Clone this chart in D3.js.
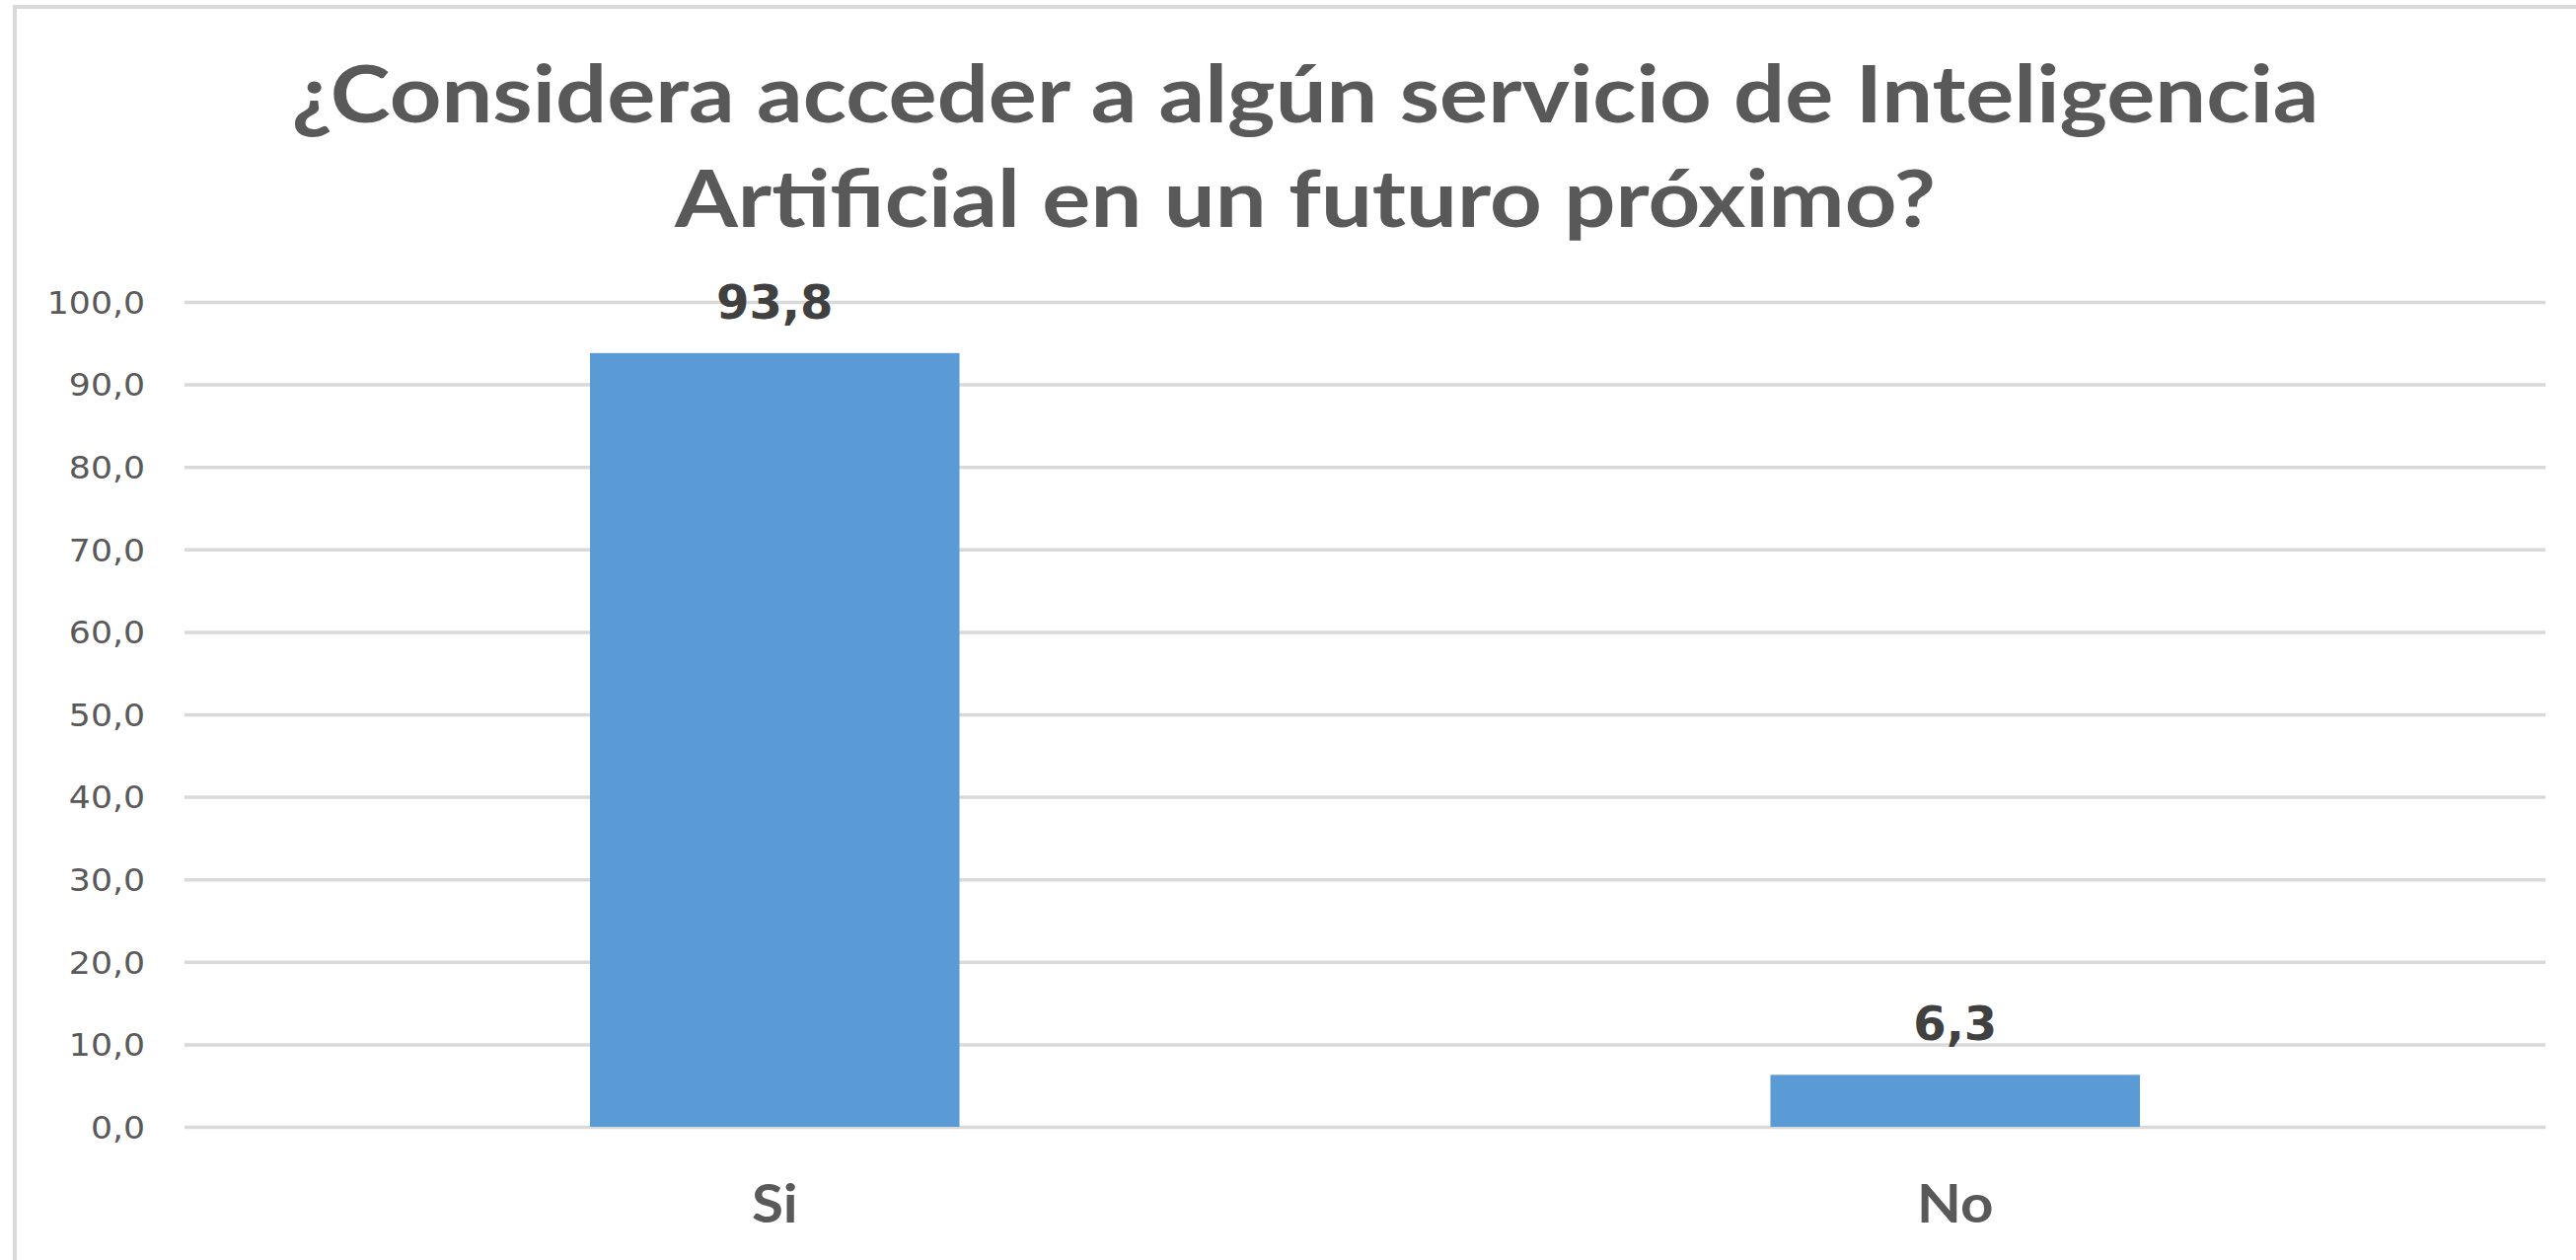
<!DOCTYPE html>
<html>
<head>
<meta charset="utf-8">
<script src="https://cdn.jsdelivr.net/npm/d3@7"></script>
<style>
  body { margin: 0; background: #ffffff; }
  svg { display: block; }
</style>
</head>
<body>
<svg id="chart" width="2611" height="1277"></svg>
<script>
// chart data
const categories = ["Si", "No"];
const values = [93.8, 6.3];
const yTicks = [0, 10, 20, 30, 40, 50, 60, 70, 80, 90, 100];
const titleLines = ["¿Considera acceder a algún servicio de Inteligencia",
                    "Artificial en un futuro próximo?"];

// layout
const width = 2611;
const height = 1277;
const plotLeft = 187;
const plotRight = 2580;
const plotTop = 306;
const plotBottom = 1142;

const gridColor = "#d9d9d9";
const barColor = "#5b9bd5";
const textColor = "#595959";
const labelColor = "#404040";

const fmt = d3.formatLocale({decimal: ",", thousands: ".", grouping: [3], currency: ["", ""]}).format(".1f");

// stretch text horizontally (source font is narrower/wider than what we have)
function stretch(sel, f) {
    sel.each(function() {
        const w = this.getComputedTextLength();
        d3.select(this).attr("textLength", w * f).attr("lengthAdjust", "spacingAndGlyphs");
    });
}

const svg = d3.select("#chart");

// chart area border (only left and top edges show in the crop)
svg.append("line")
    .attr("x1", 15).attr("x2", 15).attr("y1", 5).attr("y2", height)
    .attr("stroke", gridColor).attr("stroke-width", 4);
svg.append("line")
    .attr("x1", 13).attr("x2", width).attr("y1", 7).attr("y2", 7)
    .attr("stroke", gridColor).attr("stroke-width", 4);

const xScale = d3.scaleBand()
                .domain(categories)
                .range([plotLeft, plotRight])
                .paddingInner(0.687)
                .paddingOuter(0.3435);

const yScale = d3.scaleLinear()
                .domain([0, 100])
                .range([plotBottom, plotTop]);

// gridlines + tick labels via axisLeft
const leftAxis = d3.axisLeft(yScale)
                .tickValues(yTicks)
                .tickSize(-(plotRight - plotLeft))
                .tickPadding(40)
                .tickFormat(fmt);

const gy = svg.append("g")
    .attr("class", "axis")
    .attr("transform", "translate(" + plotLeft + ",0)")
    .call(leftAxis);

gy.select(".domain").remove();
gy.selectAll(".tick line")
    .attr("stroke", gridColor)
    .attr("stroke-width", 3.5);
gy.selectAll(".tick text")
    .attr("fill", textColor)
    .attr("font-family", "'DejaVu Sans'")
    .attr("font-size", 31.5)
    .attr("x", -40)
    .attr("dy", "0.36em")
    .call(stretch, 1.1);

// bars
svg.selectAll("rect.bar")
    .data(values)
    .enter()
    .append("rect")
    .attr("class", "bar")
    .attr("x", (d, i) => xScale(categories[i]))
    .attr("y", d => yScale(d))
    .attr("width", xScale.bandwidth())
    .attr("height", d => yScale(0) - yScale(d))
    .attr("fill", barColor);

// value labels
svg.selectAll("text.value")
    .data(values)
    .enter()
    .append("text")
    .attr("class", "value")
    .attr("x", (d, i) => xScale(categories[i]) + xScale.bandwidth() / 2)
    .attr("y", d => yScale(d) - 35)
    .attr("text-anchor", "middle")
    .attr("font-family", "'DejaVu Sans'")
    .attr("font-weight", "bold")
    .attr("font-size", 48)
    .attr("fill", labelColor)
    .text(d => fmt(d))
    .call(stretch, 1.0);

// category labels
svg.selectAll("text.cat")
    .data(categories)
    .enter()
    .append("text")
    .attr("class", "cat")
    .attr("x", d => xScale(d) + xScale.bandwidth() / 2)
    .attr("y", 1239)
    .attr("text-anchor", "middle")
    .attr("font-family", "Lato")
    .attr("font-weight", "bold")
    .attr("font-size", 54)
    .attr("fill", textColor)
    .text(d => d)
    .call(stretch, 1.08);

// title
const titleWidths = [2055, 1278];
const titleBaselines = [124, 230];
svg.selectAll("text.title")
    .data(titleLines)
    .enter()
    .append("text")
    .attr("class", "title")
    .attr("x", 1323)
    .attr("y", (d, i) => titleBaselines[i])
    .attr("text-anchor", "middle")
    .attr("font-family", "Lato")
    .attr("font-weight", "bold")
    .attr("font-size", 81)
    .attr("fill", textColor)
    .attr("textLength", (d, i) => titleWidths[i])
    .attr("lengthAdjust", "spacingAndGlyphs")
    .text(d => d);
</script>
</body>
</html>
